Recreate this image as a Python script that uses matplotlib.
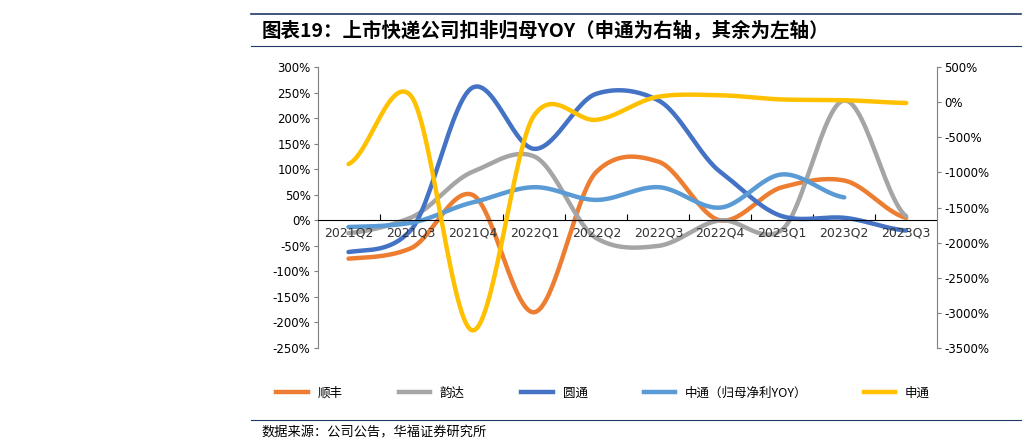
import numpy as np
import matplotlib.pyplot as plt
from matplotlib.lines import Line2D

plt.rcParams['font.family'] = ['Noto Sans CJK SC', 'DejaVu Sans']
plt.rcParams['axes.unicode_minus'] = False

quarters = ['2021Q2', '2021Q3', '2021Q4', '2022Q1', '2022Q2', '2022Q3',
            '2022Q4', '2023Q1', '2023Q2', '2023Q3']
shunfeng = [-75, -55, 50, -180, 95, 115, 0, 65, 78, 5]
yunda = [-25, 5, 95, 125, -35, -50, 0, -18, 235, 8]
yuantong = [-62, -20, 260, 140, 248, 235, 95, 8, 5, -20]
zto = [-13, -5, 35, 65, 40, 65, 25, 90, 45]
sto = [-880, 100, -3250, -180, -250, 80, 100, 40, 30, -10]

left_ticks = list(range(-250, 301, 50))
right_ticks = list(range(-3500, 501, 500))


def smooth(y, n=30, k=0.4):
    # Excel-like smoothed line (cardinal spline through the points)
    y = np.asarray(y, float)
    x = np.arange(len(y), dtype=float)
    xs, ys = [], []
    for i in range(len(y) - 1):
        p0 = y[i - 1] if i > 0 else y[i]
        p3 = y[i + 2] if i + 2 < len(y) else y[i + 1]
        m1 = (y[i + 1] - p0) * k
        m2 = (p3 - y[i]) * k
        t = np.linspace(0, 1, n)
        h00 = 2 * t**3 - 3 * t**2 + 1
        h10 = t**3 - 2 * t**2 + t
        h01 = -2 * t**3 + 3 * t**2
        h11 = t**3 - t**2
        xs.append(x[i] + t)
        ys.append(h00 * y[i] + h10 * m1 + h01 * y[i + 1] + h11 * m2)
    return np.concatenate(xs), np.concatenate(ys)


fig = plt.figure(figsize=(10.31, 4.45), dpi=100)
ax = fig.add_axes([0.308, 0.218, 0.601, 0.631])
ax2 = ax.twinx()

c_sf, c_yd, c_yt, c_zt, c_st = '#ED7D31', '#A5A5A5', '#4472C4', '#5B9BD5', '#FFC000'
lw = 3.2
for data, c in [(shunfeng, c_sf), (yunda, c_yd), (yuantong, c_yt), (zto, c_zt)]:
    xs, ys = smooth(data)
    ax.plot(xs, ys, color=c, lw=lw, solid_capstyle='round')
xs, ys = smooth(sto)
ax2.plot(xs, ys, color=c_st, lw=lw, solid_capstyle='round')

ax.set_xlim(-0.5, 9.5)
ax.set_ylim(-250, 300)
ax2.set_ylim(-3500, 500)
ax.set_yticks(left_ticks)
ax.set_yticklabels([f'{v}%' for v in left_ticks], fontsize=8.5, family='Liberation Sans Narrow')
ax2.set_yticks(right_ticks)
ax2.set_yticklabels([f'{v}%' for v in right_ticks], fontsize=8.5, family='Liberation Sans Narrow')

ax.spines['bottom'].set_position(('data', 0))
ax.spines['bottom'].set_color('black')
ax.set_xticks(np.arange(0.5, 9.5, 1))
ax.set_xticklabels([])
ax.tick_params(axis='x', direction='in', length=4, color='black')
for i, q in enumerate(quarters):
    ax.text(i, -12, q, ha='center', va='top', fontsize=9, color='#333333',
            family='Liberation Sans Narrow')

for a in (ax, ax2):
    a.spines['top'].set_visible(False)
    a.spines['left'].set_color('#7f7f7f')
    a.spines['right'].set_color('#7f7f7f')
    a.tick_params(axis='y', length=3, color='#7f7f7f', pad=2)
ax2.spines['bottom'].set_visible(False)
ax2.spines['left'].set_visible(False)
ax.spines['right'].set_visible(False)

handles = [Line2D([], [], color=c, lw=lw) for c in (c_sf, c_yd, c_yt, c_zt, c_st)]
labels = ['顺丰', '韵达', '圆通', '中通（归母净利YOY）', '申通']
fig.legend(handles, labels, loc='center', bbox_to_anchor=(0.585, 0.117), ncol=5,
           frameon=False, fontsize=9, handlelength=2.5, columnspacing=4.5)

fig.add_artist(Line2D([0.243, 0.99], [0.968, 0.968], color='#1F3864', lw=1.2))
fig.add_artist(Line2D([0.243, 0.99], [0.896, 0.896], color='#1F3864', lw=0.8))
fig.add_artist(Line2D([0.243, 0.99], [0.056, 0.056], color='#1F3864', lw=0.8))
fig.text(0.254, 0.932, '图表19：上市快递公司扣非归母YOY（申通为右轴，其余为左轴）',
         fontsize=14, weight='bold', va='center', ha='left')
fig.text(0.254, 0.028, '数据来源：公司公告，华福证券研究所', fontsize=9.5,
         va='center', ha='left')

fig.savefig('out.png', dpi=100)
